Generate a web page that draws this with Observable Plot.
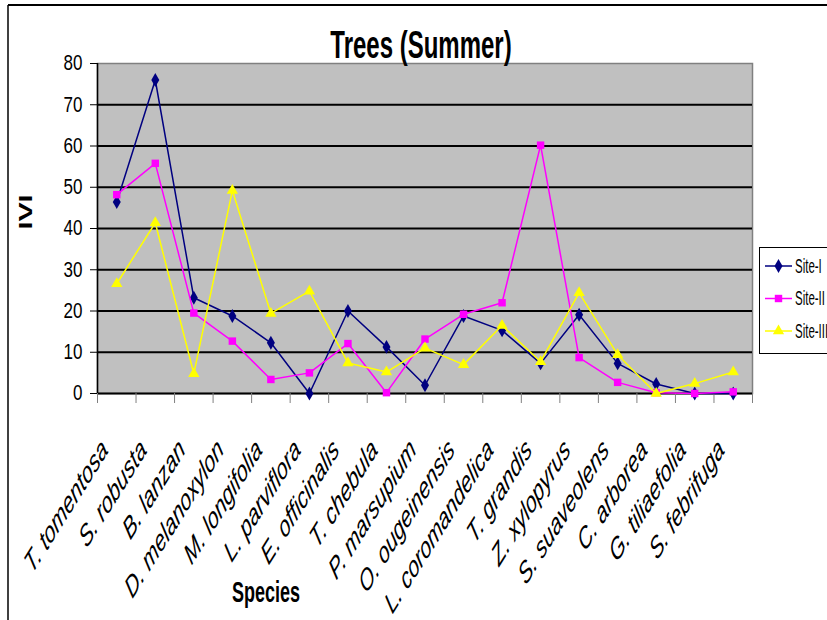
<!DOCTYPE html>
<html>
<head>
<meta charset="utf-8">
<script src="https://cdn.jsdelivr.net/npm/d3@7"></script>
<script src="https://cdn.jsdelivr.net/npm/@observablehq/plot@0.6"></script>
<style>
  html, body { margin: 0; padding: 0; background: #fff; }
  #wrap { position: relative; width: 827px; height: 620px; overflow: hidden; background: #fff; }
  #wrap > svg { position: absolute; left: 0; top: 0; }
</style>
</head>
<body>
<div id="wrap"></div>
<script>
const categories = ["T. tomentosa","S. robusta","B. lanzan","D. melanoxylon","M. longifolia","L. parviflora","E. officinalis","T. chebula","P. marsupium","O. ougeinensis","L. coromandelica","T. grandis","Z. xylopyrus","S. suaveolens","C. arborea","G. tiliaefolia","S. febrifuga"];
const siteI   = [46.4, 76.0, 23.2, 18.8, 12.3, 0.0, 20.0, 11.3, 2.0, 18.8, 15.3, 7.3, 19.1, 7.3, 2.3, 0.0, 0.0];
const siteII  = [48.2, 55.8, 19.5, 12.7, 3.4, 5.0, 12.1, 0.2, 13.2, 19.2, 22.0, 60.2, 8.7, 2.7, 0.2, 0.0, 0.4];
const siteIII = [26.6, 41.4, 4.8, 49.2, 19.4, 24.8, 7.4, 5.2, 11.0, 7.0, 16.5, 7.7, 24.4, 9.4, 0.0, 2.4, 5.2];
const seriesNames = ["Site-I", "Site-II", "Site-III"];
const seriesValues = [siteI, siteII, siteIII];
const seriesColors = ["#000080", "#FF00FF", "#FFFF00"];
const seriesSymbols = ["diamond", "square", "triangle"];
const yTicks = [0, 10, 20, 30, 40, 50, 60, 70, 80];
const titleText = "Trees (Summer)";
const xLabel = "Species";
const yLabel = "IVI";

const n = categories.length;
const data = seriesNames.flatMap((s, k) => seriesValues[k].map((v, i) => ({series: s, k, i, v})));
const boundaries = d3.range(n + 1).map(i => i - 0.5);

const seriesMarks = seriesNames.flatMap((s, k) => {
  const d = data.filter(r => r.k === k);
  return [
    Plot.line(d, {x: "i", y: "v", stroke: seriesColors[k], strokeWidth: 1.5}),
    Plot.dot(d, {x: "i", y: "v", symbol: () => seriesSymbols[k], fill: seriesColors[k], stroke: "none", r: 4.2})
  ];
});

const plot = Plot.plot({
  width: 827,
  height: 620,
  marginLeft: 97,
  marginRight: 75,
  marginTop: 63,
  marginBottom: 227,
  style: {background: "transparent", fontFamily: "'Liberation Sans', Arial, sans-serif", color: "#000", overflow: "visible"},
  x: {type: "linear", domain: [-0.5, n - 0.5], label: null, axis: null},
  y: {domain: [0, 80], label: null, axis: null},
  symbol: {type: "identity"},
  marks: [
    Plot.frame({fill: "#C0C0C0", stroke: "#808080", strokeWidth: 1.5}),
    Plot.gridY(yTicks.filter(t => t > 0 && t < 80), {stroke: "#000", strokeOpacity: 1, strokeWidth: 2}),
    Plot.ruleY([0], {stroke: "#000", strokeWidth: 2}),
    Plot.ruleX([-0.5], {stroke: "#000", strokeWidth: 1.5}),
    Plot.axisY({ticks: yTicks, tickSize: 7, tickPadding: 8, fontSize: 17, label: null}),
    Plot.axisX({ticks: boundaries, tickSize: 10, stroke: "#808080", tickFormat: () => "", label: null}),
    Plot.axisX({ticks: d3.range(n), tickSize: 0, tickPadding: 51, dx: -12, tickFormat: i => categories[i], tickRotate: -45, textAnchor: "end", lineAnchor: "middle", fontSize: 19, fontStyle: "italic", label: null}),
    ...seriesMarks
  ]
});

const wrap = document.getElementById("wrap");
wrap.appendChild(plot);

// emulate the vertically stretched lettering of the reference
plot.querySelectorAll('g[aria-label="x-axis tick label"] text').forEach(t => {
  const tr = t.getAttribute("transform");
  if (tr && tr.includes("rotate(")) t.setAttribute("transform", tr.replace("rotate(", "scale(1,1.6) rotate("));
});
plot.querySelectorAll('g[aria-label="y-axis tick label"] text').forEach(t => {
  const tr = t.getAttribute("transform");
  if (tr && tr.includes("translate(")) t.setAttribute("transform", tr + " scale(1,1.25)");
});

// overlay: chart border, title, axis titles, legend
const ov = d3.select(wrap).append("svg").attr("width", 827).attr("height", 620)
  .style("font-family", "'Liberation Sans', Arial, sans-serif");
ov.append("line").attr("x1", 8).attr("x2", 827).attr("y1", 5).attr("y2", 5).attr("stroke", "#000").attr("stroke-width", 2);
ov.append("line").attr("x1", 8).attr("x2", 8).attr("y1", 5).attr("y2", 620).attr("stroke", "#000").attr("stroke-width", 1.5);

ov.append("text").text(titleText).attr("text-anchor", "middle").attr("font-weight", "bold").attr("font-size", 24)
  .attr("transform", "translate(421,58) scale(1,1.6)");
ov.append("text").text(xLabel).attr("text-anchor", "middle").attr("font-weight", "bold").attr("font-size", 18)
  .attr("transform", "translate(266,602) scale(1,1.6)");
ov.append("text").text(yLabel).attr("text-anchor", "middle").attr("font-weight", "bold").attr("font-size", 18)
  .attr("transform", "translate(32,212) scale(1,1.6) rotate(-90)");

const lg = ov.append("g");
lg.append("rect").attr("x", 759.5).attr("y", 247.5).attr("width", 120).attr("height", 106)
  .attr("fill", "#fff").attr("stroke", "#000").attr("stroke-width", 1);
const symMap = {diamond: d3.symbolDiamond, square: d3.symbolSquare, triangle: d3.symbolTriangle};
seriesNames.forEach((s, k) => {
  const y = 266 + k * 32.5;
  lg.append("line").attr("x1", 765).attr("x2", 792).attr("y1", y).attr("y2", y).attr("stroke", seriesColors[k]).attr("stroke-width", 1.5);
  lg.append("path").attr("d", d3.symbol(symMap[seriesSymbols[k]], 55)()).attr("transform", `translate(778.5,${y})`).attr("fill", seriesColors[k]);
  lg.append("text").text(s).attr("font-size", 11.5).attr("transform", `translate(795,${y + 6.5}) scale(1,1.7)`);
});
</script>
</body>
</html>
